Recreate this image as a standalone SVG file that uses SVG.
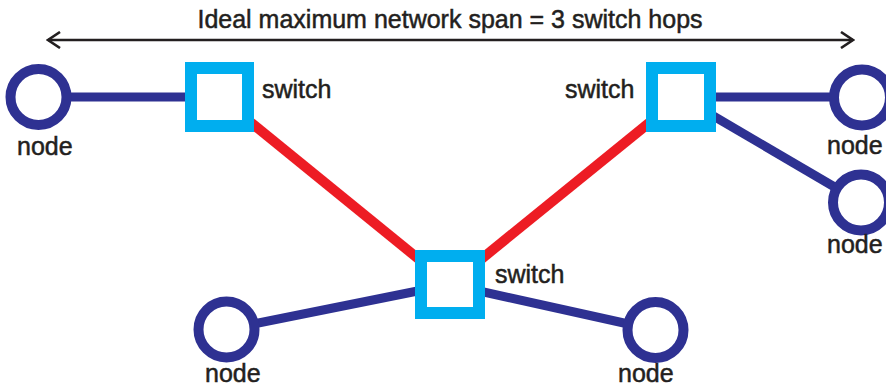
<svg xmlns="http://www.w3.org/2000/svg" width="886" height="387" viewBox="0 0 886 387">
  <style>
    .lbl { font-family: "Liberation Sans", Arial, Helvetica, sans-serif; font-size: 25px; fill: #231f20; stroke: #231f20; stroke-width: 0.5; }
    .sw { fill: #ffffff; stroke: #00aeef; stroke-width: 12; }
    .nd { fill: #ffffff; stroke: #2e3192; stroke-width: 10; }
    .hop { stroke: #ed1c24; stroke-width: 10; fill: none; }
    .link { stroke: #2e3192; stroke-width: 9; fill: none; }
  </style>
  <defs>
    <marker id="chev" viewBox="0 0 16 18" refX="14" refY="9" markerWidth="16" markerHeight="18" markerUnits="userSpaceOnUse" orient="auto-start-reverse">
      <path d="M2,1 L14,9 L2,17" fill="none" stroke="#231f20" stroke-width="2.6"/>
    </marker>
  </defs>

  <rect width="886" height="387" fill="#ffffff"/>

  <!-- span indicator -->
  <g id="span">
    <line x1="48" y1="40" x2="853" y2="40" stroke="#231f20" stroke-width="2.6" marker-start="url(#chev)" marker-end="url(#chev)"/>
    <text class="lbl" x="450" y="28" text-anchor="middle">Ideal maximum network span = 3 switch hops</text>
  </g>

  <!-- connectors -->
  <g id="connectors">
    <line class="hop" x1="219.5" y1="97" x2="450" y2="284.5"/>
    <line class="hop" x1="681" y1="97" x2="450" y2="284.5"/>
    <line class="link" x1="38.5" y1="97" x2="219.5" y2="97"/>
    <line class="link" x1="681" y1="97" x2="862" y2="97"/>
    <line class="link" x1="681" y1="97" x2="861" y2="202.5"/>
    <line class="link" x1="226.5" y1="329.5" x2="450" y2="284.5"/>
    <line class="link" x1="450" y1="284.5" x2="655.5" y2="330"/>
  </g>

  <!-- switches -->
  <g id="switch-left">
    <rect class="sw" x="191" y="68" width="57" height="58"/>
    <text class="lbl" x="262" y="98">switch</text>
  </g>
  <g id="switch-right">
    <rect class="sw" x="652" y="68" width="58" height="58"/>
    <text class="lbl" x="565" y="98">switch</text>
  </g>
  <g id="switch-bottom">
    <rect class="sw" x="421" y="256" width="58" height="57"/>
    <text class="lbl" x="495" y="283">switch</text>
  </g>

  <!-- nodes -->
  <g id="node-left">
    <circle class="nd" cx="38.5" cy="97" r="28"/>
    <text class="lbl" x="17" y="155">node</text>
  </g>
  <g id="node-right-top">
    <circle class="nd" cx="862" cy="97.5" r="28"/>
    <text class="lbl" x="827" y="154">node</text>
  </g>
  <g id="node-right-lower">
    <circle class="nd" cx="861" cy="202.5" r="28"/>
    <text class="lbl" x="827" y="253">node</text>
  </g>
  <g id="node-bottom-left">
    <circle class="nd" cx="226.5" cy="329.5" r="28"/>
    <text class="lbl" x="205" y="382">node</text>
  </g>
  <g id="node-bottom-right">
    <circle class="nd" cx="655.5" cy="330" r="28"/>
    <text class="lbl" x="618" y="382">node</text>
  </g>
</svg>
